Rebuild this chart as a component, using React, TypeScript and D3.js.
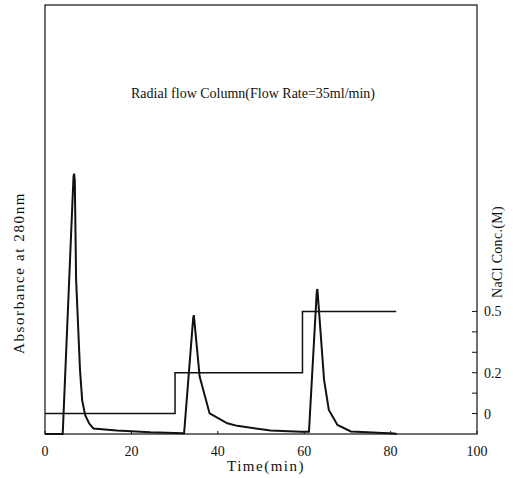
import React from "react";
import * as d3 from "d3";

const timeMin = [0, 4.1, 6.6, 6.75, 6.9, 7.2, 8.1, 8.6, 9.3, 10.2, 11.2, 16.6, 24.4, 31.9, 32.2, 34.3, 34.45, 35.8, 38.1, 42.2, 44.5, 52.2, 59.2, 61.1, 62.9, 63.05, 64.6, 65.7, 67.7, 70.8, 80.8, 81.4];
const absorbance = [0, 0, 0.6, 0.607, 0.59, 0.36, 0.15, 0.079, 0.044, 0.025, 0.013, 0.008, 0.004, 0.002, 0.002, 0.27, 0.277, 0.134, 0.048, 0.025, 0.019, 0.008, 0.005, 0.005, 0.33, 0.338, 0.126, 0.056, 0.021, 0.006, 0.001, 0];

const stepTime = [0, 30.1, 59.6, 81.3];
const naclConc = [0, 0.2, 0.5, 0.5];

const xTicks = [0, 20, 40, 60, 80, 100];
const yRightTicks = [0, 0.1, 0.2, 0.3, 0.4, 0.5];
const yRightLabels = [0, 0.2, 0.5];

const title = "Radial flow Column(Flow Rate=35ml/min)";
const xLabel = "Time(min)";
const yLeftLabel = "Absorbance at 280nm";
const yRightLabel = "NaCl Conc.(M)";

export default function App() {
  const W = 513, H = 478;
  const left = 45, right = 477, top = 5, bottom = 434;
  const x = d3.scaleLinear().domain([0, 100]).range([left, right]);
  const yA = d3.scaleLinear().domain([0, 1]).range([bottom, top]);
  const yC = d3.scaleLinear().domain([-0.1, 2.0]).range([bottom, top]);

  const absLine = d3.line<number>().x((_, i) => x(timeMin[i])).y((d) => yA(d))(absorbance) || "";
  const stepLine = d3.line<number>().curve(d3.curveStepAfter).x((_, i) => x(stepTime[i])).y((d) => yC(d))(naclConc) || "";

  const font = "'Liberation Serif', 'DejaVu Serif', serif";
  return (
    <svg width={W} height={H} style={{ position: "absolute", left: 0, top: 0 }} fontFamily={font}>
      <rect x={0} y={0} width={W} height={H} fill="#fff" />
      <rect x={left} y={top} width={right - left} height={bottom - top} fill="none" stroke="#111" strokeWidth={1.2} />
      {xTicks.map((t) => (
        <g key={"xt" + t}>
          <line x1={x(t)} x2={x(t)} y1={bottom} y2={bottom - 3} stroke="#111" strokeWidth={1} />
          <text x={x(t)} y={456} fontSize={14} textAnchor="middle" fill="#111">{t}</text>
        </g>
      ))}
      {yRightTicks.map((v) => (
        <line key={"yt" + v} x1={right} x2={right - 5} y1={yC(v)} y2={yC(v)} stroke="#111" strokeWidth={1} />
      ))}
      {yRightLabels.map((v) => (
        <text key={"yl" + v} x={484} y={yC(v) + 5} fontSize={14} fill="#111">{v}</text>
      ))}
      <path d={stepLine} fill="none" stroke="#111" strokeWidth={1.5} />
      <path d={absLine} fill="none" stroke="#111" strokeWidth={2} strokeLinejoin="miter" />
      <text x={253} y={98} fontSize={14} textAnchor="middle" fill="#111">{title}</text>
      <text x={266} y={471} fontSize={15} letterSpacing={1.5} textAnchor="middle" fill="#111">{xLabel}</text>
      <text transform="translate(24,273) rotate(-90)" fontSize={15} letterSpacing={1.6} textAnchor="middle" fill="#111">{yLeftLabel}</text>
      <text transform="translate(502,252) rotate(-90)" fontSize={14} letterSpacing={0.3} textAnchor="middle" fill="#111">{yRightLabel}</text>
    </svg>
  );
}
